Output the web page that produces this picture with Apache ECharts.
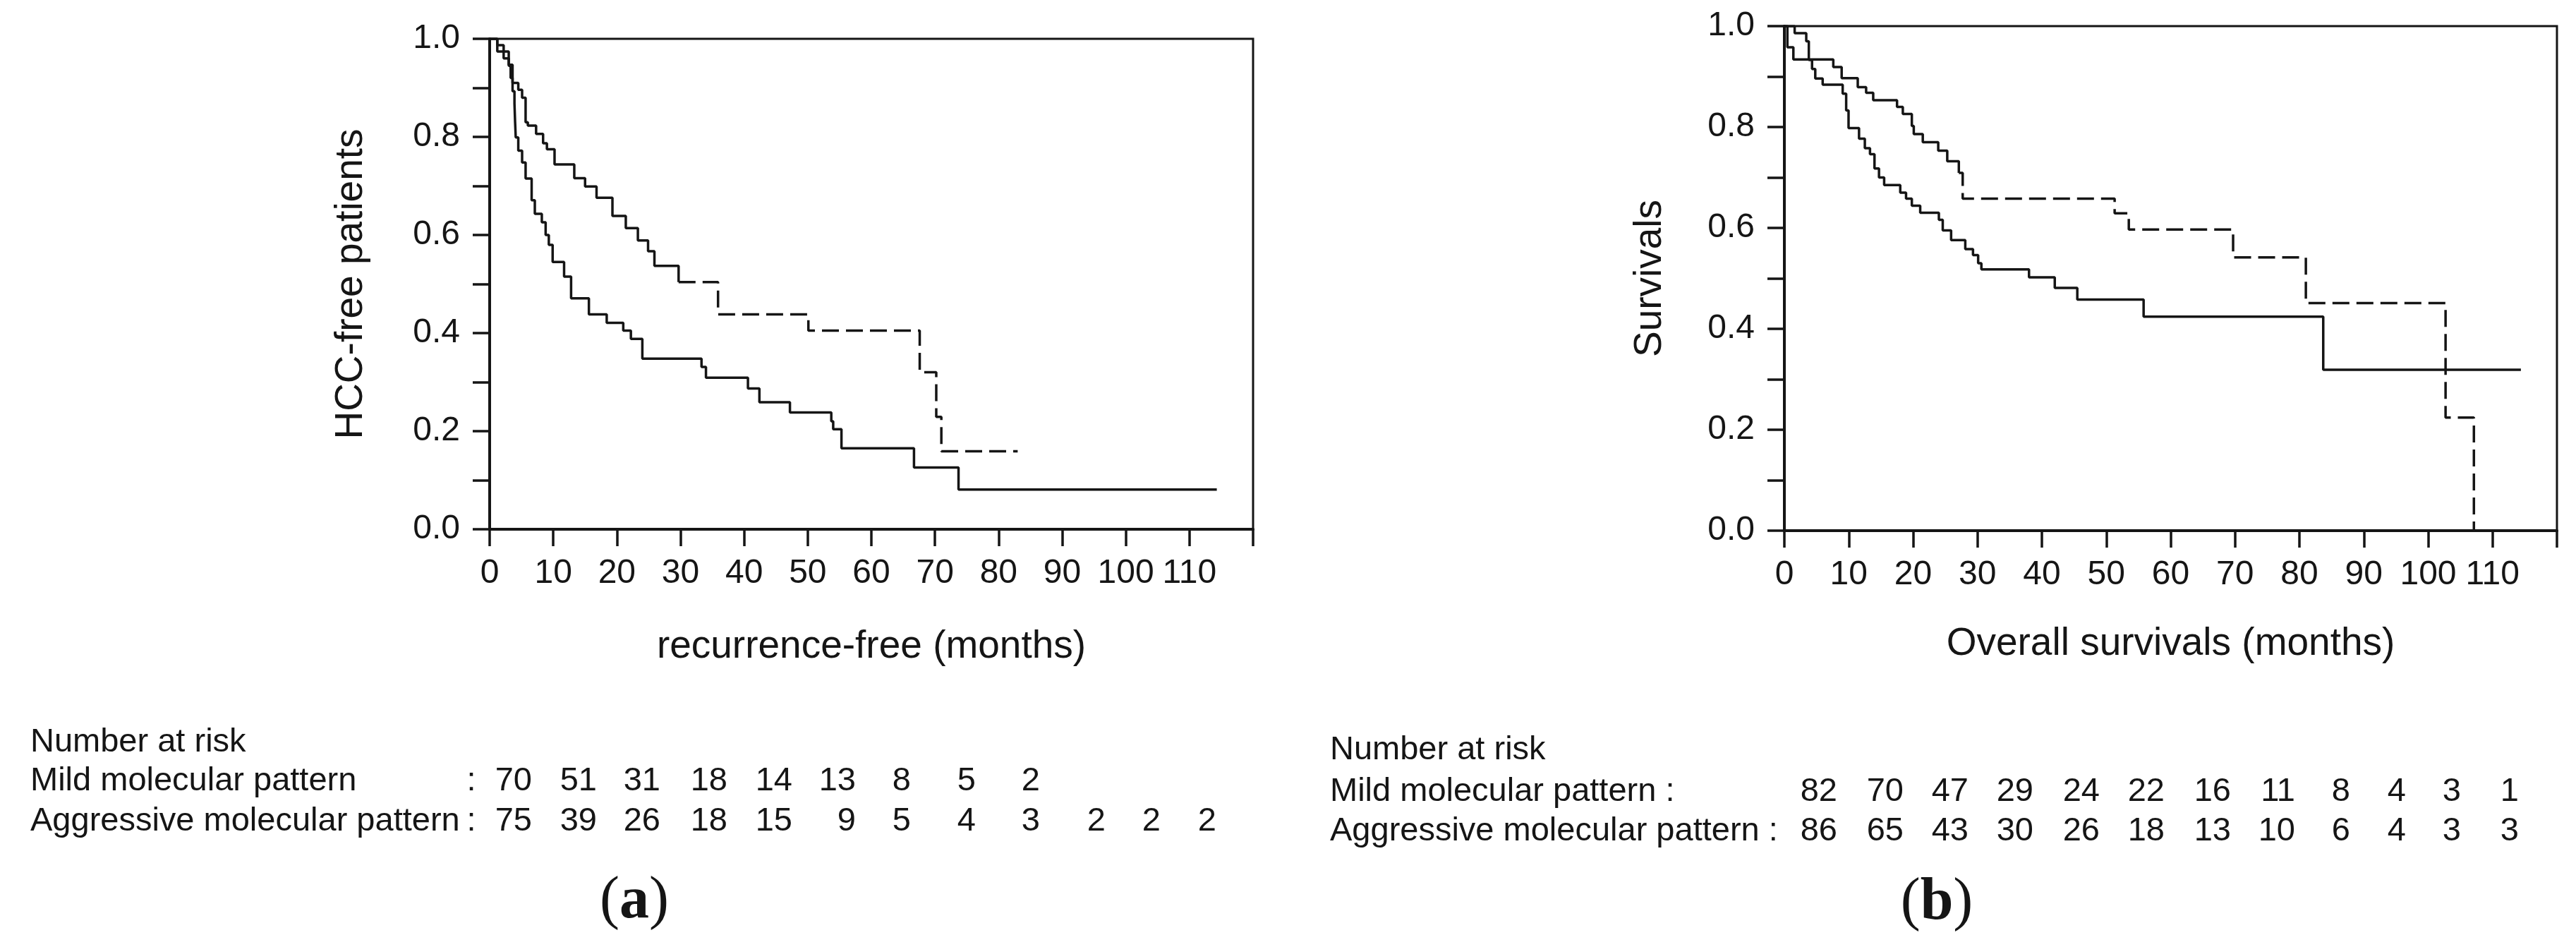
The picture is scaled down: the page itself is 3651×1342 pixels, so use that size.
<!DOCTYPE html>
<html>
<head>
<meta charset="utf-8">
<script src="https://cdn.jsdelivr.net/npm/echarts@6/dist/echarts.min.js"></script>
<style>
html,body{margin:0;padding:0;background:#fff;}
#c{width:3651px;height:1342px;}
</style>
</head>
<body>
<div id="c"></div>
<script>
// ---------- DATA ----------
// Panel (a): recurrence-free, step points (time in months, survival after the step)
const aMildTime = [0, 1.2, 3.0, 3.6, 4.5, 5.1, 5.65, 6.0, 7.3, 8.4, 9.0, 10.2, 13.3, 15.0, 16.8, 19.3, 21.4, 23.3, 24.9, 25.9, 29.7, 35.9, 50.1, 67.6, 70.2, 71.0, 83.0];
const aMildSurv = [1.0, 0.974, 0.947, 0.910, 0.896, 0.880, 0.830, 0.823, 0.806, 0.787, 0.775, 0.744, 0.716, 0.699, 0.676, 0.639, 0.614, 0.589, 0.567, 0.537, 0.504, 0.438, 0.405, 0.320, 0.229, 0.159, 0.159];
const aAggrTime = [0, 1.2, 2.2, 3.0, 3.3, 3.6, 3.9, 4.0, 4.1, 4.5, 5.1, 5.65, 6.6, 7.1, 8.2, 8.8, 9.3, 9.9, 11.7, 12.8, 15.6, 18.4, 21.0, 22.2, 24.0, 33.3, 34.0, 40.6, 42.4, 47.2, 53.7, 54.0, 55.3, 66.7, 73.7, 114.3];
const aAggrSurv = [1.0, 0.987, 0.960, 0.945, 0.920, 0.893, 0.868, 0.830, 0.799, 0.772, 0.748, 0.715, 0.671, 0.643, 0.626, 0.600, 0.580, 0.545, 0.515, 0.471, 0.438, 0.421, 0.405, 0.388, 0.348, 0.331, 0.309, 0.287, 0.259, 0.238, 0.220, 0.204, 0.165, 0.126, 0.081, 0.081];

// Panel (b): overall survival
const bMildTime = [0, 0.47, 1.4, 7.6, 8.9, 11.4, 12.7, 13.8, 17.5, 18.4, 19.8, 20.1, 21.5, 23.9, 25.3, 27.1, 27.7, 51.3, 53.5, 69.7, 81.0, 102.7, 107.1];
const bMildSurv = [1.0, 0.958, 0.934, 0.919, 0.897, 0.879, 0.868, 0.853, 0.840, 0.826, 0.802, 0.786, 0.770, 0.753, 0.732, 0.709, 0.658, 0.629, 0.597, 0.5415, 0.451, 0.224, 0.0];
const bAggrTime = [0, 1.6, 3.4, 3.8, 4.3, 4.8, 5.95, 9.06, 9.6, 9.97, 11.6, 12.5, 13.3, 14.0, 14.7, 15.5, 18.0, 18.9, 19.8, 21.1, 24.0, 24.6, 25.9, 28.1, 29.3, 30.1, 30.6, 38.0, 42.0, 45.5, 55.8, 83.7, 114.4];
const bAggrSurv = [1.0, 0.986, 0.970, 0.933, 0.915, 0.896, 0.884, 0.866, 0.833, 0.798, 0.777, 0.758, 0.746, 0.718, 0.700, 0.685, 0.670, 0.658, 0.644, 0.630, 0.616, 0.595, 0.576, 0.558, 0.546, 0.530, 0.518, 0.502, 0.481, 0.458, 0.424, 0.319, 0.319];

// Number at risk
const riskAMild = [70, 51, 31, 18, 14, 13, 8, 5, 2];
const riskAAggr = [75, 39, 26, 18, 15, 9, 5, 4, 3, 2, 2, 2];
const riskBMild = [82, 70, 47, 29, 24, 22, 16, 11, 8, 4, 3, 1];
const riskBAggr = [86, 65, 43, 30, 26, 18, 13, 10, 6, 4, 3, 3];

// Texts
const xTicksMax = 110;
const aXName = 'recurrence-free (months)';
const aYName = 'HCC-free patients';
const bXName = 'Overall survivals (months)';
const bYName = 'Survivals';
const riskTitle = 'Number at risk';
const mildLabel = 'Mild molecular pattern';
const aggrLabel = 'Aggressive molecular pattern';

// ---------- LAYOUT ----------
const INK = '#151515';
const SANS = '"Liberation Sans", Arial, Helvetica, sans-serif';
const SERIF = '"Liberation Serif", "Times New Roman", serif';
const aColRight = [754, 846, 936, 1031, 1123, 1213, 1291, 1383, 1474, 1567, 1645, 1724];
const bColRight = [2604, 2698, 2790, 2882, 2976, 3068, 3162, 3253, 3331, 3410, 3488, 3570];
// index from which the short steps give way to visible dashes (dash restarts per segment in the original)
const aMildDashFrom = 20;
const bMildDashFrom = 15;

function pairs(t, s) { return t.map((v, i) => [v, s[i]]); }

function xAxis(gi, gap) {
  return {
    gridIndex: gi, type: 'value', min: 0, max: 120, interval: 10,
    axisLine: { show: true, onZero: false, lineStyle: { color: INK, width: 4 } },
    axisTick: { show: true, inside: false, length: 24, lineStyle: { color: INK, width: 3.5 } },
    axisLabel: { margin: 39, fontSize: 48, fontFamily: SANS, color: INK,
      formatter: v => (v <= xTicksMax ? String(v) : '') },
    splitLine: { show: false },
    nameLocation: 'middle', nameGap: gap,
    nameTextStyle: { fontSize: 55, fontFamily: SANS, color: INK }
  };
}
function yAxis(gi, gap) {
  return {
    gridIndex: gi, type: 'value', min: 0, max: 1, interval: 0.1,
    axisLine: { show: true, onZero: false, lineStyle: { color: INK, width: 4 } },
    axisTick: { show: true, inside: false, length: 24, lineStyle: { color: INK, width: 3.5 } },
    axisLabel: { margin: 42, fontSize: 48, fontFamily: SANS, color: INK,
      formatter: v => (Math.round(v * 10) % 2 === 0 ? v.toFixed(1) : '') },
    splitLine: { show: false },
    nameLocation: 'middle', nameGap: gap, nameRotate: 90,
    nameTextStyle: { fontSize: 55, fontFamily: SANS, color: INK }
  };
}
function line(name, xi, data, dashed) {
  return {
    type: 'line', name: name, xAxisIndex: xi, yAxisIndex: xi,
    data: data, step: 'end', symbol: 'none', silent: true,
    lineStyle: { color: INK, width: 3.5, type: dashed ? [24, 10] : 'solid' }
  };
}

const graphics = [];
function txt(x, y, text, align, size) {
  graphics.push({ type: 'text', x: x, y: y, silent: true,
    style: { text: text, fontSize: size || 47, fontFamily: SANS, fill: INK,
      align: align || 'left', verticalAlign: 'middle' } });
}
// Panel a table
txt(43, 1052, riskTitle);
txt(43, 1107, mildLabel);
txt(668, 1107, ':', 'center');
txt(43, 1164, aggrLabel);
txt(668, 1164, ':', 'center');
riskAMild.forEach((v, i) => txt(aColRight[i], 1107, String(v), 'right'));
riskAAggr.forEach((v, i) => txt(aColRight[i], 1164, String(v), 'right'));
// Panel b table
txt(1885, 1063, riskTitle);
txt(1885, 1122, mildLabel + ' :');
txt(1885, 1178, aggrLabel + ' :');
riskBMild.forEach((v, i) => txt(bColRight[i], 1122, String(v), 'right'));
riskBAggr.forEach((v, i) => txt(bColRight[i], 1178, String(v), 'right'));
// Panel letters
function letter(x, y, l) {
  graphics.push({ type: 'text', x: x, y: y, silent: true,
    style: { text: '{n|(}{b|' + l + '}{n|)}', align: 'center', verticalAlign: 'middle',
      rich: {
        n: { fontSize: 84, fontWeight: 'normal', fontFamily: SERIF, fill: INK, color: INK },
        b: { fontSize: 84, fontWeight: 'bold', fontFamily: SERIF, fill: INK, color: INK }
      } } });
}
letter(899, 1278, 'a');
letter(2745, 1280, 'b');

const aMild = pairs(aMildTime, aMildSurv);
const bMild = pairs(bMildTime, bMildSurv);

const chart = echarts.init(document.getElementById('c'), null, { renderer: 'canvas' });
chart.setOption({
  animation: false,
  backgroundColor: '#ffffff',
  grid: [
    { left: 694, top: 55, width: 1082, height: 695, show: true, borderColor: INK, borderWidth: 3, backgroundColor: 'transparent' },
    { left: 2529, top: 37, width: 1095, height: 715, show: true, borderColor: INK, borderWidth: 3, backgroundColor: 'transparent' }
  ],
  xAxis: [
    Object.assign(xAxis(0, 139), { name: aXName }),
    Object.assign(xAxis(1, 133), { name: bXName })
  ],
  yAxis: [
    Object.assign(yAxis(0, 169), { name: aYName }),
    Object.assign(yAxis(1, 163), { name: bYName })
  ],
  series: [
    line('Mild molecular pattern (a)', 0, aMild.slice(0, aMildDashFrom + 1), false),
    line('Mild molecular pattern (a)', 0, aMild.slice(aMildDashFrom), true),
    line('Aggressive molecular pattern (a)', 0, pairs(aAggrTime, aAggrSurv), false),
    line('Mild molecular pattern (b)', 1, bMild.slice(0, bMildDashFrom + 1), false),
    line('Mild molecular pattern (b)', 1, bMild.slice(bMildDashFrom), true),
    line('Aggressive molecular pattern (b)', 1, pairs(bAggrTime, bAggrSurv), false)
  ],
  graphic: graphics
});
</script>
</body>
</html>
